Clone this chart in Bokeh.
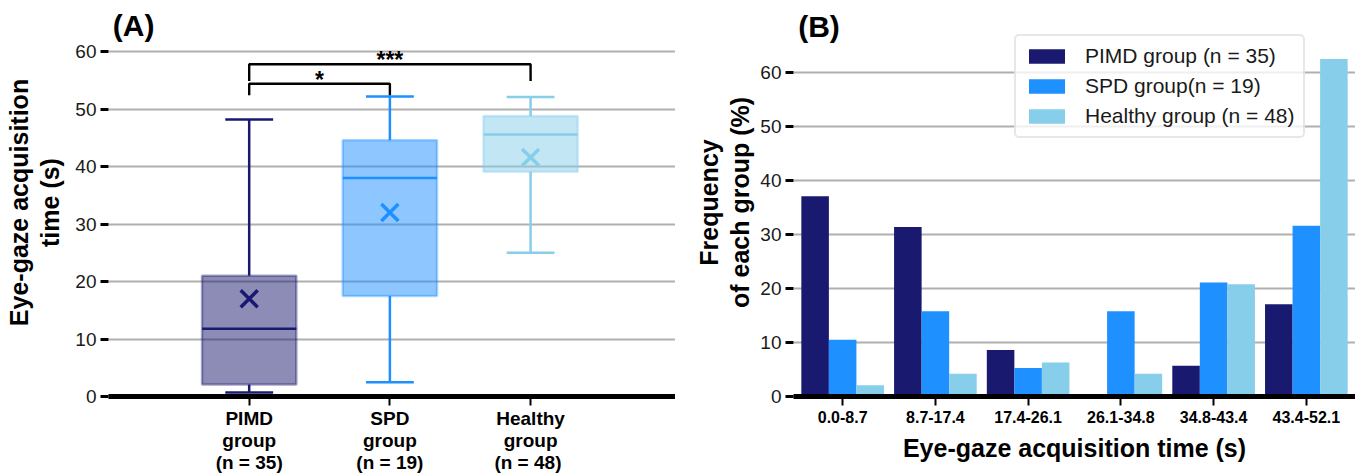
from bokeh.plotting import figure
from bokeh.layouts import row
from bokeh.models import (FixedTicker, Label, Legend, LegendItem, Range1d, ColumnDataSource)
from bokeh.transform import dodge
from bokeh.embed import file_html
from bokeh.resources import INLINE
from bokeh.core.properties import value

# ---------------- data: panel A (box plot) ----------------
group_labels = ["PIMD\ngroup\n(n = 35)", "SPD\ngroup\n(n = 19)", "Healthy\ngroup\n(n =  48)"]
group_pos = [1, 2, 3]
group_colors = ["#191970", "#1E90FF", "#87CEEB"]
whisker_low = [0.7, 2.5, 25.0]
q1 = [2.1, 17.5, 39.1]
median = [11.8, 38.0, 45.6]
q3 = [21.0, 44.6, 48.8]
whisker_high = [48.2, 52.2, 52.1]
mean = [17.0, 32.0, 41.6]

# significance brackets
sig_from = [1, 1]
sig_to = [2, 3]
sig_y = [54.4, 57.8]
sig_drop = [2.0, 2.9]
sig_text = ["*", "***"]

# ---------------- data: panel B (histogram bars) ----------------
bins = ["0.0-8.7", "8.7-17.4", "17.4-26.1", "26.1-34.8", "34.8-43.4", "43.4-52.1"]
pimd_freq = [37.1, 31.4, 8.6, 0.0, 5.7, 17.1]
spd_freq = [10.5, 15.8, 5.3, 15.8, 21.1, 31.6]
healthy_freq = [2.1, 4.2, 6.3, 4.2, 20.8, 62.5]
series_names = ["PIMD group (n = 35)", "SPD group(n = 19)", "Healthy group (n = 48)"]

SANS = "Liberation Sans"
GRID = "#b0b0b0"
Y_TICKS = [0, 10, 20, 30, 40, 50, 60]


def style_axes(p):
    p.outline_line_color = None
    p.xgrid.grid_line_color = None
    p.ygrid.grid_line_color = GRID
    p.ygrid.grid_line_width = 1.8
    yax = p.yaxis[0]
    yax.axis_line_color = None
    yax.major_tick_line_color = "black"
    yax.major_tick_line_width = 3
    yax.major_tick_out = 8
    yax.major_tick_in = 0
    yax.minor_tick_line_color = None
    yax.major_label_text_font = SANS
    yax.major_label_text_font_size = "19px"
    yax.major_label_text_color = "#1a1a1a"
    yax.major_label_standoff = 4
    yax.axis_label_text_font = SANS
    yax.axis_label_text_font_style = "bold"
    yax.axis_label_text_font_size = "25px"
    yax.axis_label_text_color = "black"
    yax.axis_label_text_line_height = 1.12
    xax = p.xaxis[0]
    xax.axis_line_color = "black"
    xax.axis_line_width = 5
    xax.major_tick_line_color = "black"
    xax.major_tick_line_width = 2
    xax.major_tick_out = 9
    xax.major_tick_in = 0
    xax.minor_tick_line_color = None
    xax.major_label_text_font = SANS
    xax.major_label_text_font_style = "bold"
    xax.major_label_text_color = "black"


# ---------------- panel A ----------------
pA = figure(frame_width=567, frame_height=388, x_range=Range1d(0, 4.03), y_range=Range1d(0, 67.5),
            output_backend="svg", toolbar_location=None,
            min_border_left=108, min_border_right=0, min_border_top=8, min_border_bottom=10)
style_axes(pA)
pA.yaxis.ticker = FixedTicker(ticks=Y_TICKS)
pA.yaxis.axis_label = "Eye-gaze acquisition\ntime (s)"
pA.yaxis.axis_label_standoff = 8
pA.xaxis.ticker = FixedTicker(ticks=group_pos)
pA.xaxis.major_label_overrides = {pos: lab for pos, lab in zip(group_pos, group_labels)}
pA.xaxis.major_label_text_font_size = "19px"
pA.xaxis.major_label_text_line_height = 1.06
pA.xaxis.major_label_standoff = 2

srcA = ColumnDataSource(dict(x=group_pos, lo=whisker_low, q1=q1, med=median, q3=q3,
                             hi=whisker_high, mean=mean, color=group_colors))
# whiskers
pA.segment(x0="x", y0="lo", x1="x", y1="q1", source=srcA, line_color="color", line_width=2.5)
pA.segment(x0="x", y0="q3", x1="x", y1="hi", source=srcA, line_color="color", line_width=2.5)
pA.segment(x0=dodge("x", -0.17), y0="lo", x1=dodge("x", 0.17), y1="lo", source=srcA,
           line_color="color", line_width=2.5)
pA.segment(x0=dodge("x", -0.17), y0="hi", x1=dodge("x", 0.17), y1="hi", source=srcA,
           line_color="color", line_width=2.5)
# boxes
pA.vbar(x="x", bottom="q1", top="q3", width=0.67, source=srcA, fill_color="color",
        fill_alpha=0.5, line_color="color", line_alpha=0.4, line_width=2.5)
# medians
pA.segment(x0=dodge("x", -0.335), y0="med", x1=dodge("x", 0.335), y1="med", source=srcA,
           line_color="color", line_width=2.5)
# means
pA.scatter(x="x", y="mean", source=srcA, marker="x", size=24, line_color="color", line_width=3.5)

# significance brackets
for a, b, y, d, t in zip(sig_from, sig_to, sig_y, sig_drop, sig_text):
    pA.line(x=[a, a, b, b], y=[y - d, y, y, y - d], line_color="black", line_width=2.4)
    pA.text(x=[(a + b) / 2], y=[y], text=[t], text_align="center", text_baseline="alphabetic",
            y_offset=-4, text_font=value(SANS), text_font_style="bold", text_font_size="23px",
            text_color="black")

pA.add_layout(Label(x=0.03, y=64.5, text="(A)", text_font=SANS, text_font_style="bold",
                    text_font_size="30px", text_baseline="middle", text_color="black"))

# ---------------- panel B ----------------
xs = list(range(len(bins)))
pB = figure(frame_width=562, frame_height=388, x_range=Range1d(-0.53, 5.53), y_range=Range1d(0, 71.85),
            output_backend="svg", toolbar_location=None,
            min_border_left=118, min_border_right=0, min_border_top=8, min_border_bottom=10)
style_axes(pB)
pB.yaxis.ticker = FixedTicker(ticks=Y_TICKS)
pB.yaxis.axis_label = "Frequency\nof each group (%)"
pB.yaxis.axis_label_standoff = 3
pB.xaxis.ticker = FixedTicker(ticks=xs)
pB.xaxis.major_label_overrides = {i: b for i, b in zip(xs, bins)}
pB.xaxis.major_label_text_font_size = "16px"
pB.xaxis.major_label_standoff = 5
pB.xaxis.axis_label = "Eye-gaze acquisition time (s)"
pB.xaxis.axis_label_text_font = SANS
pB.xaxis.axis_label_text_font_style = "bold"
pB.xaxis.axis_label_text_font_size = "25px"
pB.xaxis.axis_label_text_color = "black"
pB.xaxis.axis_label_standoff = 8

srcB = ColumnDataSource(dict(x=xs, pimd=pimd_freq, spd=spd_freq, healthy=healthy_freq))
bw = 0.297
renderers = []
for col, off, color in zip(["pimd", "spd", "healthy"], [-bw, 0, bw], group_colors):
    r = pB.vbar(x=dodge("x", off), top=col, width=bw, source=srcB, fill_color=color,
                line_color=None)
    renderers.append(r)

legend = Legend(items=[LegendItem(label=n, renderers=[r]) for n, r in zip(series_names, renderers)],
                location=(221, 258))
legend.label_text_font = SANS
legend.label_text_font_size = "21px"
legend.label_text_color = "#1a1a1a"
legend.glyph_width = 45
legend.glyph_height = 18
legend.label_height = 18
legend.label_standoff = 16
legend.spacing = 6
legend.padding = 8
legend.margin = 0
legend.border_line_color = "#d0d0d0"
legend.border_line_width = 2
legend.background_fill_alpha = 0.8
if "border_radius" in legend.properties():
    legend.border_radius = 5
pB.add_layout(legend)

pB.add_layout(Label(x=-0.48, y=68.6, text="(B)", text_font=SANS, text_font_style="bold",
                    text_font_size="30px", text_baseline="middle", text_color="black"))

layout = row(pA, pB)
open("out.html", "w").write(file_html(layout, INLINE))
